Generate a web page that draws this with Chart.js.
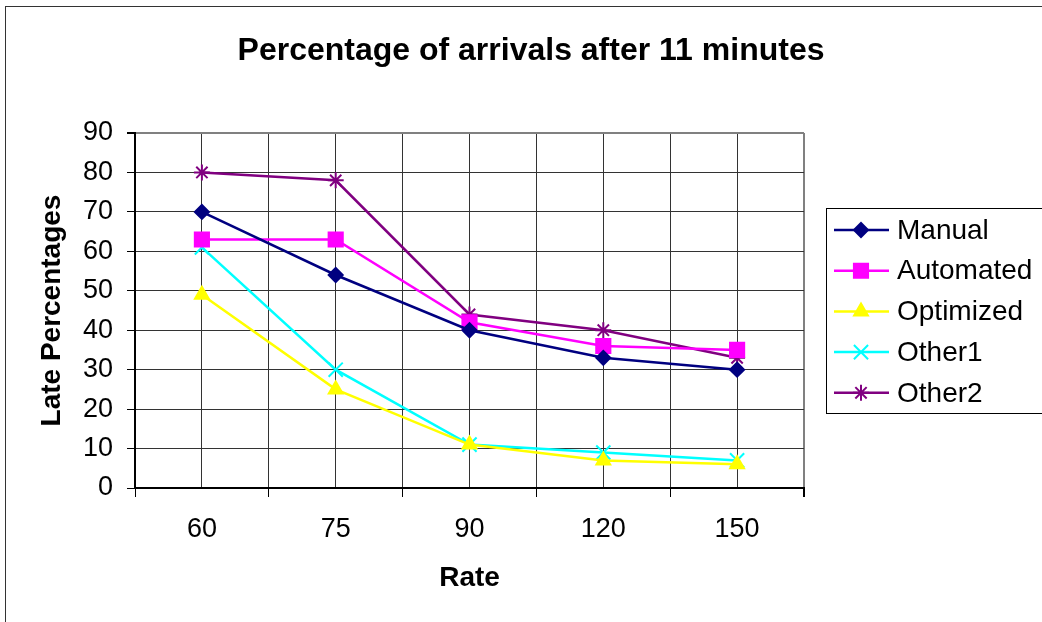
<!DOCTYPE html>
<html>
<head>
<meta charset="utf-8">
<title>Percentage of arrivals after 11 minutes</title>
<script src="https://cdn.jsdelivr.net/npm/chart.js@4.4.0/dist/chart.umd.min.js"></script>
<style>
  html, body { margin: 0; padding: 0; background: #fff; overflow: hidden; }
  #wrap { width: 1042px; height: 622px; }
</style>
</head>
<body>
<div id="wrap"><canvas id="late-chart" width="1042" height="622"></canvas></div>
<script>
// values
const rates = ['60', '75', '90', '120', '150'];
const manual = [70, 54, 40, 33, 30];
const automated = [63, 63, 42, 36, 35];
const optimized = [49, 25, 11, 7, 6];
const other1 = [61, 30, 11, 9, 7];
const other2 = [80, 78, 44, 40, 33];

const yTicks = [0, 10, 20, 30, 40, 50, 60, 70, 80, 90];

const FONT = '"Liberation Sans", Arial, sans-serif';

function makeSet(label, data, color, style, radius){
  return {
    label: label,
    data: data,
    borderColor: color,
    backgroundColor: color,
    pointBackgroundColor: color,
    pointBorderColor: color,
    pointStyle: style,
    pointRadius: radius,
    pointHoverRadius: radius,
    pointBorderWidth: 2,
    borderWidth: 2.5,
    tension: 0,
    fill: false
  };
}

//draws the outer frame, the title and the excel-style legend box
const decoPlugin = {
  id: 'deco',
  beforeDraw(chart){
    const ctx = chart.ctx;
    ctx.save();
    ctx.fillStyle = '#fff';
    ctx.fillRect(0, 0, chart.width, chart.height);
    ctx.strokeStyle = '#333';
    ctx.lineWidth = 1;
    ctx.strokeRect(5.5, 6.5, 1200, 800);
    ctx.restore();
  },
  afterDraw(chart){
    const ctx = chart.ctx;
    ctx.save();
    // title
    ctx.fillStyle = '#000';
    ctx.font = 'bold 32px ' + FONT;
    ctx.textAlign = 'center';
    ctx.textBaseline = 'middle';
    ctx.fillText('Percentage of arrivals after 11 minutes', 531, 51);

    // legend box
    ctx.strokeStyle = '#000';
    ctx.lineWidth = 1;
    ctx.strokeRect(826.5, 208.5, 400, 205);

    ctx.font = '28px ' + FONT;
    ctx.textAlign = 'left';
    chart.data.datasets.forEach((ds, i) => {
      const y = 230 + i * 40.7;
      ctx.strokeStyle = ds.borderColor;
      ctx.lineWidth = ds.borderWidth;
      ctx.beginPath();
      ctx.moveTo(834, y);
      ctx.lineTo(889, y);
      ctx.stroke();
      ctx.fillStyle = ds.pointBackgroundColor;
      ctx.lineWidth = ds.pointBorderWidth;
      Chart.helpers.drawPoint(ctx, {pointStyle: ds.pointStyle, radius: ds.pointRadius, rotation: 0, borderWidth: ds.pointBorderWidth}, 861, y);
      ctx.fillStyle = '#000';
      ctx.fillText(ds.label, 897, y + 1);
    });
    ctx.restore();
  }
};

var ctx = document.getElementById('late-chart').getContext('2d');

new Chart(ctx, {
  type: 'line',
  data: {
    labels: rates,
    datasets: [
      makeSet('Manual', manual, '#000080', 'rectRot', 7),
      makeSet('Automated', automated, '#FF00FF', 'rect', 10),
      makeSet('Optimized', optimized, '#FFFF00', 'triangle', 8),
      makeSet('Other1', other1, '#00FFFF', 'crossRot', 10),
      makeSet('Other2', other2, '#800080', 'star', 8)
    ]
  },
  options: {
    responsive: false,
    animation: false,
    layout: {
      padding: { left: 5, top: 133, right: 238, bottom: 24 }
    },
    plugins: {
      legend: { display: false },
      title: { display: false },
      tooltip: { enabled: false }
    },
    scales: {
      x: {
        type: 'category',
        offset: true,
        afterFit: scale => { scale.height = 110; },
        grid: {
          offset: true,
          color: c => c.index === undefined ? '#808080' : '#333',
          lineWidth: c => c.index === undefined ? 2 : 1,
          tickColor: '#000',
          tickLength: 9
        },
        border: { color: '#000', width: 2 },
        ticks: {
          color: '#000',
          padding: 16,
          maxRotation: 0,
          font: { family: FONT, size: 27 }
        },
        title: {
          display: true,
          text: 'Rate',
          color: '#000',
          padding: { top: 0, bottom: 3 },
          font: { family: FONT, size: 28, weight: 'bold' }
        }
      },
      x2: {
        type: 'category',
        position: 'top',
        offset: true,
        grid: {
          offset: false,
          color: '#333',
          lineWidth: 1,
          drawTicks: false
        },
        border: { display: false },
        ticks: { display: false }
      },
      y: {
        min: 0,
        max: 90,
        afterFit: scale => { scale.width = 130; },
        afterBuildTicks: scale => { scale.ticks = yTicks.map(v => ({ value: v })); },
        grid: {
          color: c => c.tick && c.tick.value === 90 ? '#808080' : '#333',
          lineWidth: c => c.tick && c.tick.value === 90 ? 2 : 1,
          tickColor: '#000',
          tickLength: 8
        },
        border: { color: '#000', width: 2 },
        ticks: {
          color: '#000',
          padding: 14,
          font: { family: FONT, size: 27 }
        },
        title: {
          display: true,
          text: 'Late Percentages',
          color: '#000',
          padding: { top: 30, bottom: 0 },
          font: { family: FONT, size: 28, weight: 'bold' }
        }
      }
    }
  },
  plugins: [decoPlugin]
});
</script>
</body>
</html>
